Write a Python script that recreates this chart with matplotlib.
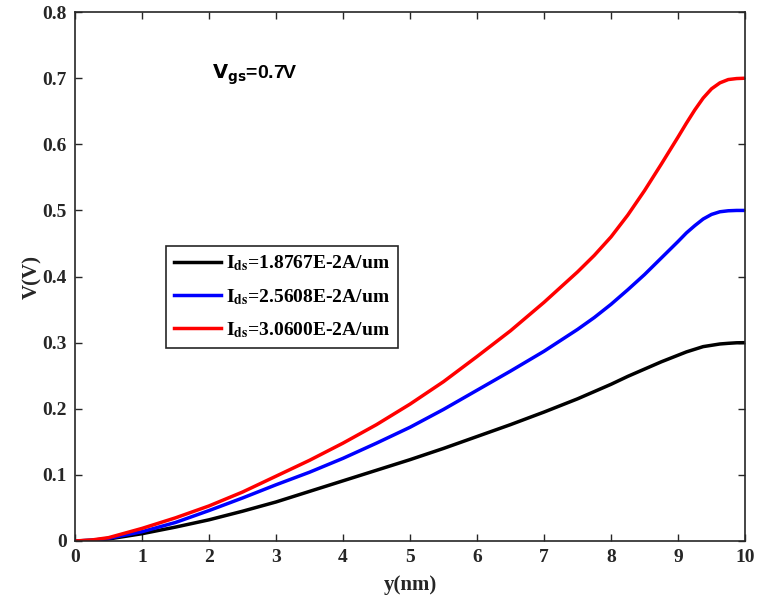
import matplotlib
matplotlib.use("Agg")
import matplotlib.pyplot as plt

# y position (nm) and potential (V)
y_nm = [0, 0.25, 0.5, 1, 1.5, 2, 2.5, 3, 3.5, 4, 4.5, 5, 5.5, 6, 6.5, 7, 7.5, 7.75, 8, 8.25,
        8.5, 8.75, 9, 9.125, 9.25, 9.375, 9.5, 9.625, 9.75, 9.875, 10]
v_black = [0, 0.001, 0.003, 0.011, 0.021, 0.032, 0.045, 0.059, 0.075, 0.091, 0.107, 0.123,
           0.140, 0.158, 0.176, 0.195, 0.215, 0.226, 0.237, 0.249, 0.260, 0.271, 0.281,
           0.286, 0.290, 0.294, 0.296, 0.298, 0.299, 0.2998, 0.300]
v_blue = [0, 0.001, 0.004, 0.014, 0.028, 0.046, 0.065, 0.085, 0.104, 0.125, 0.148, 0.172,
          0.199, 0.228, 0.257, 0.287, 0.320, 0.338, 0.358, 0.380, 0.403, 0.428, 0.453,
          0.466, 0.477, 0.487, 0.494, 0.498, 0.4995, 0.500, 0.500]
v_red = [0, 0.0015, 0.005, 0.019, 0.035, 0.053, 0.074, 0.098, 0.122, 0.148, 0.176, 0.207,
         0.241, 0.279, 0.318, 0.361, 0.407, 0.432, 0.460, 0.493, 0.530, 0.570, 0.611,
         0.632, 0.652, 0.670, 0.684, 0.693, 0.698, 0.6995, 0.700]
ids_labels = ["1.8767E-2A/um", "2.5608E-2A/um", "3.0600E-2A/um"]

plt.rcParams['font.family'] = 'Liberation Serif'
plt.rcParams['font.weight'] = 'bold'
plt.rcParams['mathtext.fontset'] = 'stix'

fig = plt.figure(figsize=(7.59, 6.06), dpi=100)
ax = fig.add_axes([0.0988, 0.1073, 0.8828, 0.8727])

dark = '#262626'
for v, c, lab in zip([v_black, v_blue, v_red], ['black', 'blue', 'red'], ids_labels):
    ax.plot(y_nm, v, color=c, lw=2.5, label=r'$\mathbf{I_{ds}}$=' + lab)

ax.set_xlim(0, 10)
ax.set_ylim(0, 0.8)
ax.set_xticks(range(0, 11))
ax.set_yticks([0, 0.1, 0.2, 0.3, 0.4, 0.5, 0.6, 0.7, 0.8])
ax.set_yticklabels(['0', '0.1', '0.2', '0.3', '0.4', '0.5', '0.6', '0.7', '0.8'])
ax.tick_params(direction='in', top=True, right=True, length=5, width=1,
               colors=dark, labelsize=14, pad=6)
for s in ax.spines.values():
    s.set_color(dark)
    s.set_linewidth(1.2)

ax.set_xlabel('y(nm)', fontsize=15, fontweight='bold', color=dark, labelpad=6)
ax.set_ylabel('V(V)', fontsize=15, fontweight='bold', color=dark, labelpad=0)

ax.text(2.05, 0.705, r'$\mathbf{V_{gs}}$=0.7V', fontsize=14, fontweight='bold',
        family='Liberation Sans', math_fontfamily='dejavusans', va='center')

leg = ax.legend(loc='upper left', bbox_to_anchor=(0.136, 0.558), fontsize=14,
                handlelength=2.4, handletextpad=0.3, labelspacing=0.7,
                borderpad=0.4, borderaxespad=0, fancybox=False, framealpha=1)
leg.get_frame().set_edgecolor(dark)
leg.get_frame().set_linewidth(1.2)

fig.savefig('out.png', dpi=100)
